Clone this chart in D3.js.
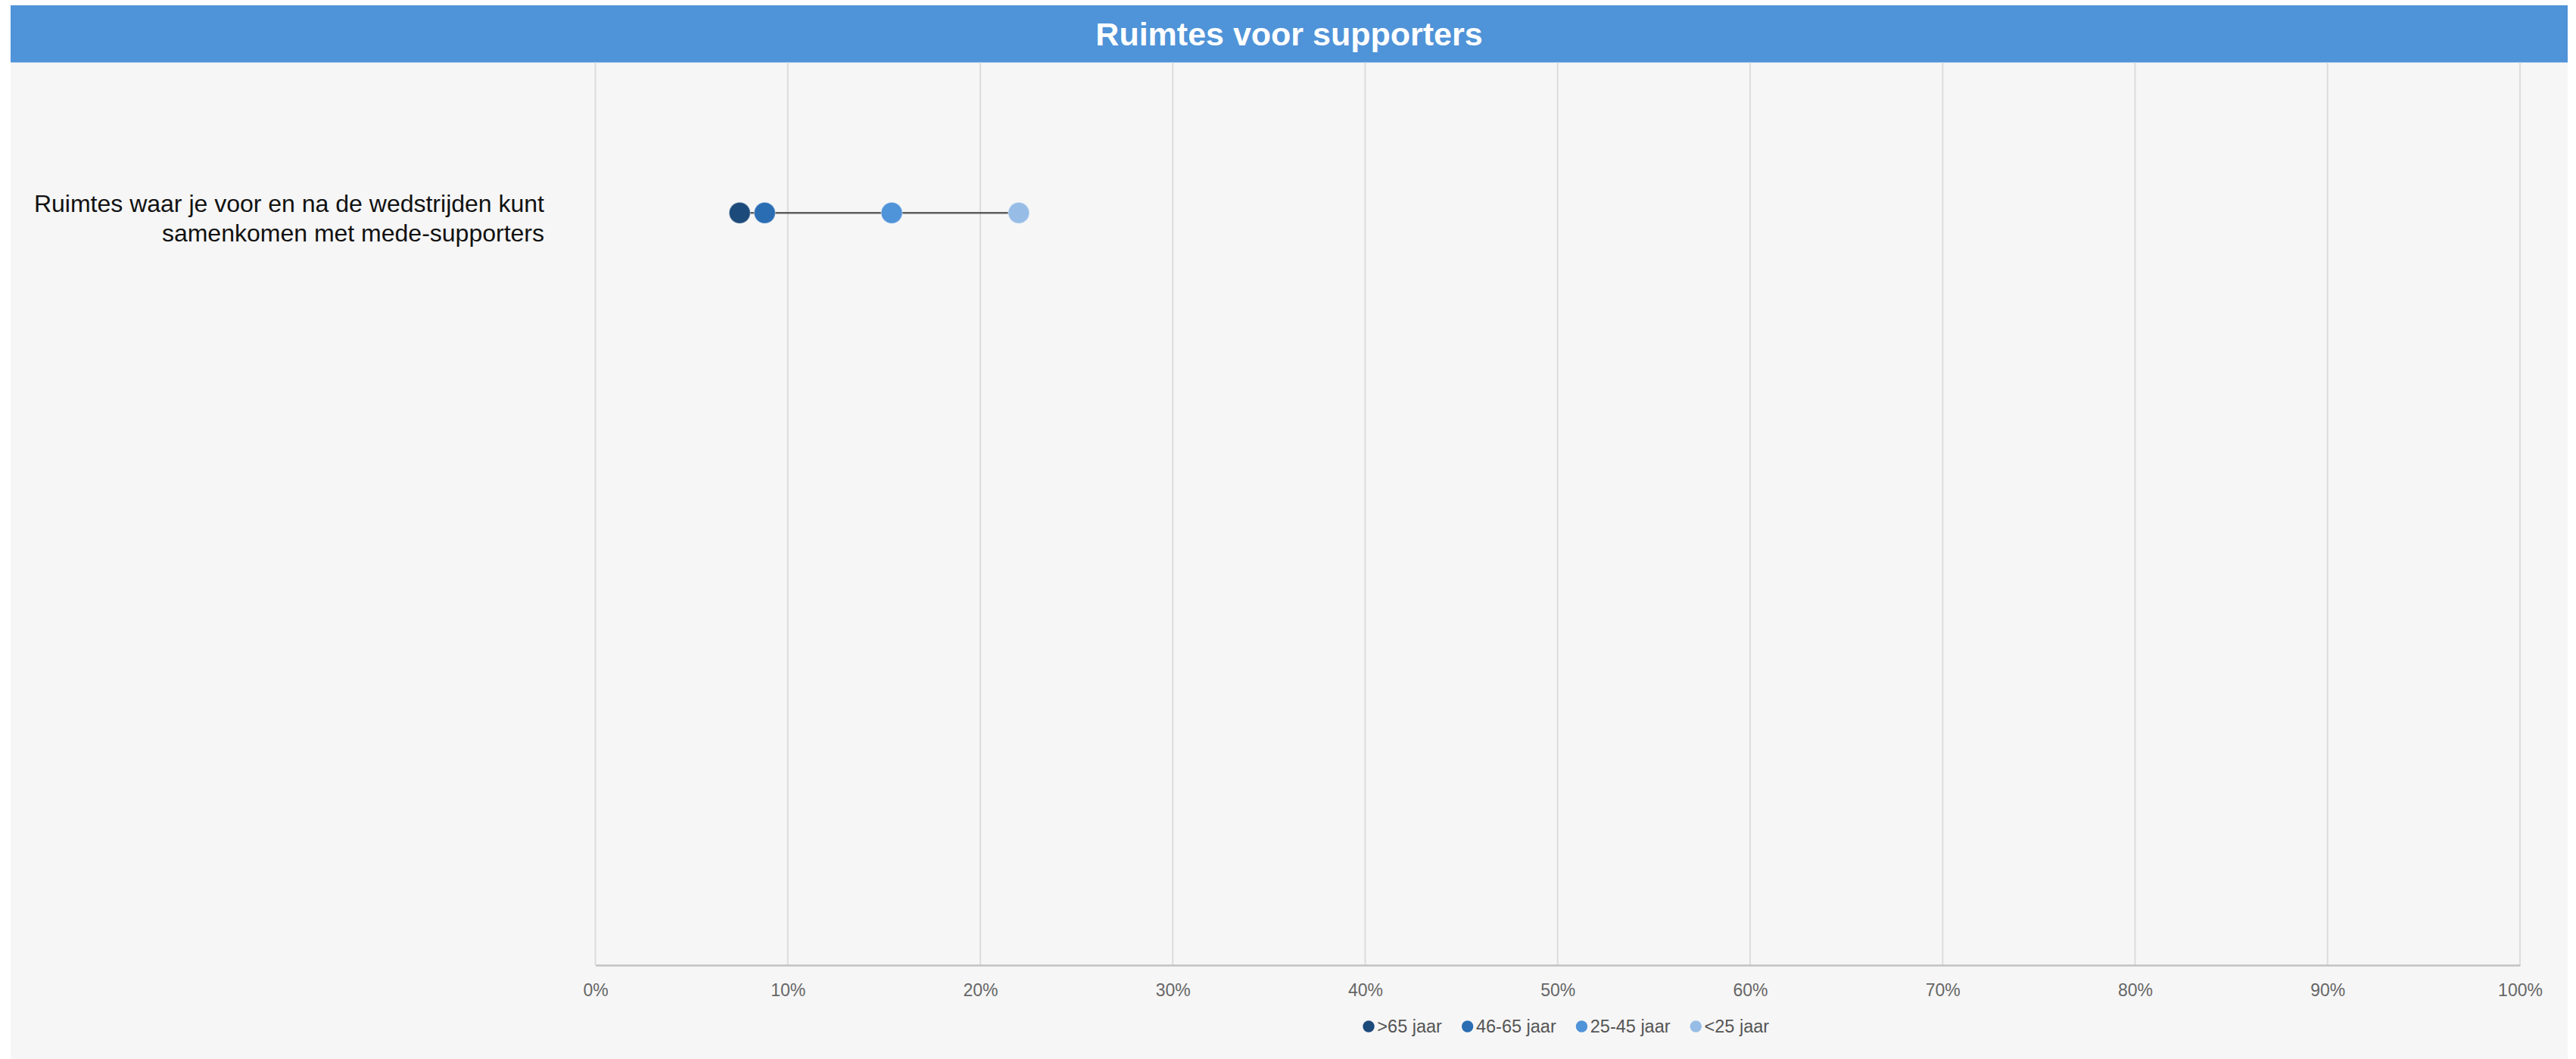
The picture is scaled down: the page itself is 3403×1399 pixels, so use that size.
<!DOCTYPE html>
<html>
<head>
<meta charset="utf-8">
<script src="https://cdn.jsdelivr.net/npm/d3@7"></script>
<style>
  html, body { margin: 0; padding: 0; background: #ffffff; }
  svg { display: block; font-family: "Liberation Sans", Arial, sans-serif; }
</style>
</head>
<body>
<svg id="chart" width="3403" height="1399"></svg>
<script>
// ---- data ----
const title = "Ruimtes voor supporters";
const categories = ["Ruimtes waar je voor en na de wedstrijden kunt samenkomen met mede-supporters"];
const categoryLines = [["Ruimtes waar je voor en na de wedstrijden kunt", "samenkomen met mede-supporters"]];
const seriesNames = [">65 jaar", "46-65 jaar", "25-45 jaar", "<25 jaar"];
const seriesColors = ["#1c4a7a", "#2a6db3", "#4f93d8", "#97bde6"];
const values = [
  [7.5, 8.8, 15.4, 22.0]
];
const xTicks = [0, 10, 20, 30, 40, 50, 60, 70, 80, 90, 100];

// ---- layout ----
const W = 3403, H = 1399;
const panel = { x: 14, y: 7, w: 3378, h: 1392 };
const titleH = 75.5;
const plot = { left: 786.5, right: 3329, top: panel.y + titleH, bottom: 1275 };
const rowsVisible = 3;

const svg = d3.select("#chart");

svg.append("rect").attr("x", panel.x).attr("y", panel.y).attr("width", panel.w).attr("height", panel.h)
  .attr("fill", "#f6f6f6");
svg.append("rect").attr("x", panel.x).attr("y", panel.y).attr("width", panel.w).attr("height", titleH)
  .attr("fill", "#4f93d8");
svg.append("text").attr("x", panel.x + panel.w / 2).attr("y", panel.y + 53)
  .attr("text-anchor", "middle").attr("fill", "#ffffff")
  .attr("font-size", 43).attr("font-weight", "bold").text(title);

const x = d3.scaleLinear().domain([0, 100]).range([plot.left, plot.right]);
const bandH = (plot.bottom - plot.top) / rowsVisible;
const y = d3.scaleBand().domain(categories).range([plot.top, plot.top + bandH * categories.length]);

// gridlines
svg.append("g").selectAll("line").data(xTicks).join("line")
  .attr("x1", d => x(d)).attr("x2", d => x(d))
  .attr("y1", plot.top).attr("y2", plot.bottom)
  .attr("stroke", "#dcdcdc").attr("stroke-width", 2);

// x axis
const xAxis = d3.axisBottom(x).tickValues(xTicks).tickFormat(d => d + "%").tickSize(0).tickPadding(25);
const gx = svg.append("g").attr("transform", `translate(0,${plot.bottom})`).call(xAxis);
gx.select(".domain").attr("stroke", "#c2c2c2").attr("stroke-width", 2.5);
gx.selectAll("text").attr("font-size", 23).attr("fill", "#666666")
  .attr("font-family", '"Liberation Sans", Arial, sans-serif');

// category labels
const labelG = svg.append("g");
categories.forEach((c, i) => {
  const yc = y(c) + y.bandwidth() / 2;
  const t = labelG.append("text").attr("text-anchor", "end").attr("font-size", 32).attr("fill", "#111111");
  categoryLines[i].forEach((ln, k) => {
    t.append("tspan").attr("x", 719).attr("y", yc - 1 + k * 38.5).text(ln);
  });
});

// dumbbells
const rows = svg.append("g").selectAll("g").data(categories).join("g")
  .attr("transform", d => `translate(0,${y(d) + y.bandwidth() / 2})`);
rows.append("line")
  .attr("x1", (d, i) => x(d3.min(values[i]))).attr("x2", (d, i) => x(d3.max(values[i])))
  .attr("y1", 0).attr("y2", 0).attr("stroke", "#5e5e5e").attr("stroke-width", 2.5);
rows.each(function (d, i) {
  d3.select(this).selectAll("circle").data(values[i]).join("circle")
    .attr("cx", v => x(v)).attr("cy", 0).attr("r", 14)
    .attr("fill", (v, j) => seriesColors[j])
    .attr("stroke", "rgba(255,255,255,0.35)").attr("stroke-width", 1.5);
});

// legend
const legY = 1356;
const leg = svg.append("g");
let cx = 0;
const items = [];
seriesNames.forEach((name, j) => {
  const g = leg.append("g");
  g.append("circle").attr("cx", 7.7).attr("cy", 0).attr("r", 7.7).attr("fill", seriesColors[j]);
  const t = g.append("text").attr("x", 19).attr("y", 8).attr("font-size", 23.5).attr("fill", "#555555").text(name);
  const w = 19 + t.node().getComputedTextLength();
  g.attr("transform", `translate(${cx},${legY})`);
  cx += w + 26;
});
const legW = cx - 26;
const legStart = (plot.left + plot.right) / 2 + 11 - legW / 2;
leg.attr("transform", `translate(${legStart},0)`);
</script>
</body>
</html>
